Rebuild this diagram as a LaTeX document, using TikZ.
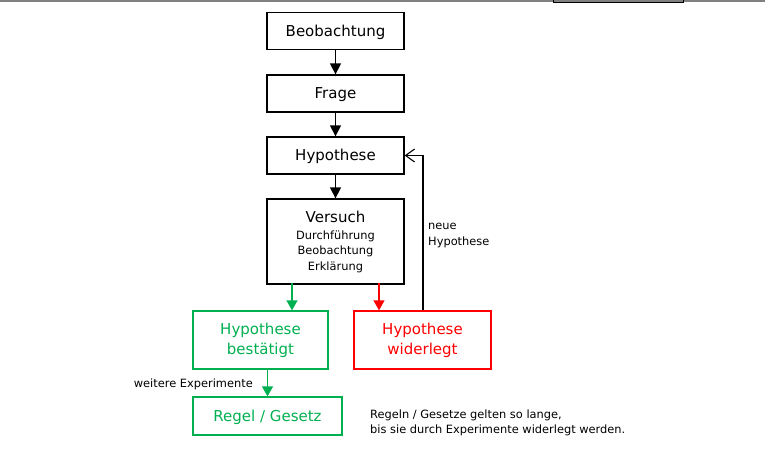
\documentclass[tikz,border=0pt]{standalone}
\usepackage{fontspec}
\setmainfont{DejaVu Sans}
\usetikzlibrary{arrows.meta}
\definecolor{okgreen}{RGB}{0,176,80}
\definecolor{badred}{RGB}{255,0,0}
\begin{document}
\begin{tikzpicture}[x=1pt,y=-1pt,
  box/.style={draw,line width=1.3pt,minimum width=137pt,inner sep=0pt,
    font=\fontsize{15}{20}\selectfont,align=center},
  sbox/.style={box,minimum height=37pt,text height=12pt,text depth=2pt},
  barrow/.style={line width=1.3pt,-{Triangle[width=11pt,length=11pt]}},
  garrow/.style={okgreen,line width=1.3pt,-{Triangle[width=11pt,length=10pt]}},
  rarrow/.style={badred,line width=1.3pt,-{Triangle[width=11pt,length=10pt]}},
  small/.style={font=\fontsize{11.4}{16}\selectfont,inner sep=0pt}]
\useasboundingbox (0,0) rectangle (765,450);
% top border remnant
\draw[gray,line width=1.5pt] (0,1) -- (765,1);
\draw[line width=0.9pt] (553,0) -- (553,2.2) -- (683,2.2) -- (683,0);

\node[sbox] (beob) at (335.5,31) {Beobachtung};
\node[sbox] (frage) at (335.5,93.5) {Frage};
\node[sbox] (hyp) at (335.5,155.5) {Hypothese};
\node[box,minimum height=85pt,font=\fontsize{11.4}{15.5}\selectfont] (vers) at (335.5,241.5)
  {{\fontsize{15}{15}\selectfont Versuch}\\[1.5pt]
   Durchführung\\
   Beobachtung\\
   Erklärung};
\node[box,okgreen,minimum width=135pt,minimum height=58pt] (gruen) at (260.5,340)
  {Hypothese\\bestätigt};
\node[box,badred,minimum height=58pt] (rot) at (422.5,340)
  {Hypothese\\widerlegt};
\node[box,okgreen,minimum width=149pt,minimum height=38pt,text height=12pt,text depth=2pt] (regel) at (267.5,416)
  {Regel / Gesetz};

\coordinate (gx) at (292,0);
\coordinate (rx) at (379,0);
\coordinate (fx) at (423,0);

\draw[barrow] (beob.south) -- (frage.north);
\draw[barrow] (frage.south) -- (hyp.north);
\draw[barrow] (hyp.south) -- (vers.north);
\draw[garrow] ([yshift=1.5pt]vers.south -| gx) -- (gruen.north -| gx);
\draw[rarrow] ([yshift=1.5pt]vers.south -| rx) -- (rot.north -| rx);
\draw[line width=1.1pt,-{Straight Barb[width=13pt,length=9pt,line width=1.1pt]}]
  (rot.north -| fx) |- (hyp.east);
\draw[garrow] ([yshift=1.5pt]gruen.south -| regel.north) -- (regel.north);

\node[small,anchor=base west,align=left] (neue) at (428,245.5) {neue\\Hypothese};
\node[small,anchor=base east] (weitere) at (253,387) {weitere Experimente};
\node[small,anchor=base west,align=left,font=\fontsize{11.4}{15}\selectfont] (regeln) at (370,433)
  {Regeln / Gesetze gelten so lange,\\bis sie durch Experimente widerlegt werden.};
\end{tikzpicture}
\end{document}
